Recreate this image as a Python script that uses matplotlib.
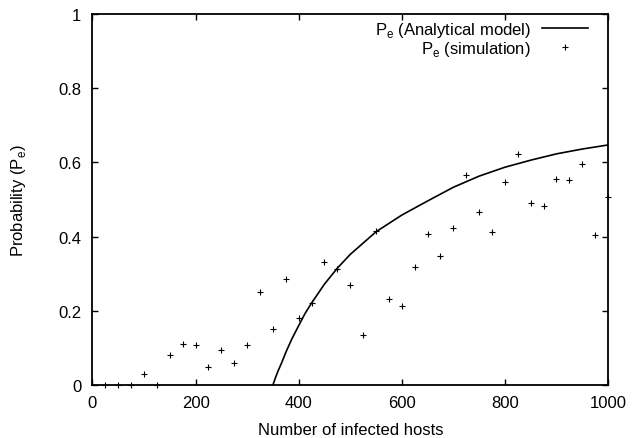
import numpy as np
import matplotlib
matplotlib.use("Agg")
import matplotlib.pyplot as plt

plt.rcParams["font.family"] = ["Liberation Sans", "DejaVu Sans"]
plt.rcParams["font.size"] = 12

# simulation samples (number of infected hosts vs P_e)
sim_hosts = [25, 50, 75, 100, 125, 150, 175, 200, 225, 250, 275, 300, 325, 350,
             375, 400, 425, 450, 475, 500, 525, 550, 575, 600, 625, 650, 675, 700,
             725, 750, 775, 800, 825, 850, 875, 900, 925, 950, 975, 1000]
sim_pe = [0.0, 0.0, 0.0, 0.029, 0.0, 0.080, 0.111, 0.108, 0.048, 0.095, 0.059, 0.107,
          0.250, 0.152, 0.287, 0.181, 0.220, 0.332, 0.314, 0.270, 0.135, 0.416,
          0.231, 0.214, 0.319, 0.406, 0.349, 0.423, 0.566, 0.466, 0.412, 0.547,
          0.623, 0.490, 0.483, 0.554, 0.552, 0.596, 0.404, 0.508]

# analytical model
model_hosts = [350, 355, 360, 367, 375, 387, 400, 412, 425, 450, 475, 500, 550,
               600, 650, 700, 750, 800, 850, 900, 950, 1000]
model_pe = [0.0, 0.020, 0.038, 0.060, 0.088, 0.125, 0.160, 0.192, 0.221, 0.272,
            0.315, 0.352, 0.413, 0.458, 0.496, 0.533, 0.563, 0.587, 0.606, 0.623,
            0.636, 0.647]

fig = plt.figure(figsize=(6.41, 4.39), dpi=100)
ax = fig.add_axes([92.5/641, 1-386/439, (608-92.5)/641, 371/439])

ax.plot(model_hosts, model_pe, color="black", lw=1.2,
        label=r"P$_\mathregular{e}$ (Analytical model)")
ax.plot(sim_hosts, sim_pe, ls="none", marker="+", ms=4.5, mew=0.8, color="black",
        clip_on=False, label=r"P$_\mathregular{e}$ (simulation)")

ax.set_xlim(0, 1000)
ax.set_ylim(0, 1)
ax.set_xticks(np.arange(0, 1001, 200))
ax.set_yticks([0, 0.2, 0.4, 0.6, 0.8, 1])
ax.set_yticklabels(["0", "0.2", "0.4", "0.6", "0.8", "1"])
ax.tick_params(direction="in", top=True, right=True, length=4, width=1.0)
ax.tick_params(axis="y", pad=8)
ax.tick_params(axis="x", pad=7)
for sp in ax.spines.values():
    sp.set_linewidth(1.3)

ax.set_xlabel("Number of infected hosts", labelpad=9)
ax.set_ylabel(r"Probability (P$_\mathregular{e}$)", labelpad=22)

ax.legend(loc="upper right", bbox_to_anchor=(0.962, 0.985), frameon=False,
          markerfirst=False, handlelength=2.8, handletextpad=0.66,
          borderpad=0, borderaxespad=0, labelspacing=0.0, numpoints=1)

fig.savefig("out.png", dpi=100)
